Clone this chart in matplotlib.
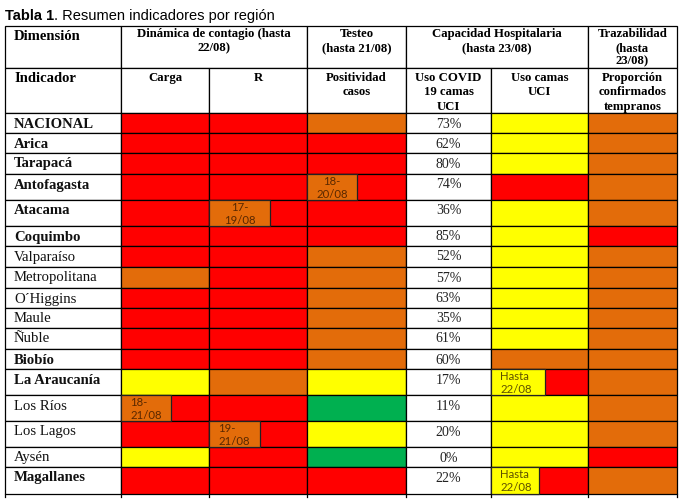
import matplotlib
matplotlib.use("Agg")
import matplotlib.pyplot as plt

# ---------------- data ----------------
regions = ['NACIONAL', 'Arica', 'Tarapacá', 'Antofagasta', 'Atacama', 'Coquimbo',
           'Valparaíso', 'Metropolitana', 'O´Higgins', 'Maule', 'Ñuble', 'Biobío',
           'La Araucanía', 'Los Ríos', 'Los Lagos', 'Aysén', 'Magallanes']
region_bold = [1, 1, 1, 1, 1, 1, 0, 0, 0, 0, 0, 1, 1, 0, 0, 0, 1]

carga       = ['R', 'R', 'R', 'R', 'R', 'R', 'R', 'O', 'R', 'R', 'R', 'R', 'Y', 'R', 'R', 'Y', 'R']
r_valor     = ['R', 'R', 'R', 'R', 'R', 'R', 'R', 'R', 'R', 'R', 'R', 'R', 'O', 'R', 'R', 'R', 'R']
positividad = ['O', 'R', 'R', 'R', 'R', 'R', 'O', 'O', 'O', 'O', 'O', 'O', 'Y', 'G', 'Y', 'G', 'R']
uso_covid   = [73, 62, 80, 74, 36, 85, 52, 57, 63, 35, 61, 60, 17, 11, 20, 0, 22]
uso_camas   = ['Y', 'Y', 'Y', 'R', 'Y', 'Y', 'Y', 'Y', 'Y', 'Y', 'Y', 'O', 'R', 'Y', 'Y', 'Y', 'R']
trazab      = ['O', 'O', 'O', 'O', 'O', 'R', 'O', 'O', 'O', 'O', 'O', 'O', 'O', 'O', 'O', 'R', 'O']

# partial-cell notes: (region, column, colour, text)
notes = [('Antofagasta', 'positividad', 'O', '18-\n20/08'),
         ('Atacama', 'r', 'O', '17-\n19/08'),
         ('La Araucanía', 'camas', 'Y', 'Hasta\n22/08'),
         ('Los Ríos', 'carga', 'O', '18-\n21/08'),
         ('Los Lagos', 'r', 'O', '19-\n21/08'),
         ('Magallanes', 'camas', 'Y', 'Hasta\n22/08')]

title_bold = 'Tabla 1'
title_rest = '. Resumen indicadores por región'
dim_headers = ['Dimensión', 'Dinámica de contagio (hasta\n22/08)', 'Testeo\n(hasta 21/08)',
               'Capacidad Hospitalaria\n(hasta 23/08)', 'Trazabilidad\n(hasta\n23/08)']
ind_headers = ['Indicador', 'Carga', 'R', 'Positividad\ncasos', 'Uso COVID\n19 camas\nUCI',
               'Uso camas\nUCI', 'Proporción\nconfirmados\ntempranos']

# ---------------- layout / style ----------------
palette = {'R': '#FF0000', 'O': '#E36C0A', 'Y': '#FFFF00', 'G': '#00B050', 'W': '#FFFFFF'}
col_edges = [5, 121, 209, 307, 406, 491, 588, 677]
head_edges = [26, 68, 113]
row_edges = [113, 133, 153, 174, 200, 226, 246, 267, 288, 308, 328, 349, 369, 395, 421,
             447, 467, 494]
dim_spans = [(0, 1), (1, 3), (3, 4), (4, 6), (6, 7)]
col_keys = {'carga': 1, 'r': 2, 'positividad': 3, 'camas': 5}
note_width = {('Antofagasta', 'positividad'): 50, ('Atacama', 'r'): 61,
              ('La Araucanía', 'camas'): 54, ('Los Ríos', 'carga'): 50,
              ('Los Lagos', 'r'): 51, ('Magallanes', 'camas'): 48}
note_center = {'Antofagasta', 'Atacama'}
SERIF = ['Liberation Serif', 'DejaVu Serif']
NOTEFONT = ['Lato', 'DejaVu Sans']
LW = 0.9

fig = plt.figure(figsize=(6.86, 5.03), dpi=100)
ax = fig.add_axes([0, 0, 1, 1])
ax.set_xlim(0, 686)
ax.set_ylim(503, 0)
ax.axis('off')


def lines(x, y0, text, spacing, **kw):
    for i, ln in enumerate(text.split('\n')):
        ax.text(x, y0 + i * spacing, ln, va='baseline', **kw)


# title
t = ax.text(5, 20, title_bold, fontsize=10.5, fontweight='bold',
            family=['Liberation Sans'], va='baseline')
fig.canvas.draw()
bb = t.get_window_extent()
x_after = ax.transData.inverted().transform((bb.x1, 0))[0]
ax.text(x_after, 20, title_rest, fontsize=10.5, family=['Liberation Sans'], va='baseline')

# header row 1
for (a, b), txt in zip(dim_spans, dim_headers):
    ax.bar(col_edges[a], head_edges[1] - head_edges[0], width=col_edges[b] - col_edges[a],
           bottom=head_edges[0], align='edge', color='white', edgecolor='black', linewidth=LW)
    if a == 0:
        lines(col_edges[0] + 9, head_edges[0] + 14, txt, 13.5, fontsize=10.5,
              fontweight='bold', family=SERIF, ha='left')
    else:
        lines((col_edges[a] + col_edges[b]) / 2, head_edges[0] + 11, txt, 13.8,
              fontsize=9.2, fontweight='bold', family=SERIF, ha='center')

# header row 2
for j, txt in enumerate(ind_headers):
    ax.bar(col_edges[j], head_edges[2] - head_edges[1], width=col_edges[j + 1] - col_edges[j],
           bottom=head_edges[1], align='edge', color='white', edgecolor='black', linewidth=LW)
    if j == 0:
        lines(col_edges[0] + 9, head_edges[1] + 14, txt, 14, fontsize=10.5,
              fontweight='bold', family=SERIF, ha='left')
    else:
        lines((col_edges[j] + col_edges[j + 1]) / 2, head_edges[1] + 13, txt, 14.3,
              fontsize=9.2, fontweight='bold', family=SERIF, ha='center')

# data cells
columns = [['W'] * len(regions), carga, r_valor, positividad, ['W'] * len(regions),
           uso_camas, trazab]
tops = row_edges[:-1]
heights = [row_edges[i + 1] - row_edges[i] for i in range(len(regions))]
for j, col in enumerate(columns):
    ax.bar([col_edges[j]] * len(regions), heights, width=col_edges[j + 1] - col_edges[j],
           bottom=tops, align='edge', color=[palette[c] for c in col],
           edgecolor='black', linewidth=LW)

for i, name in enumerate(regions):
    ax.text(col_edges[0] + 9, tops[i] + 14.5, name, fontsize=10.6,
            fontweight='bold' if region_bold[i] else 'normal', family=SERIF, va='baseline',
            color='#111111')
    ax.text((col_edges[4] + col_edges[5]) / 2, tops[i] + 14.5, f'{uso_covid[i]}%',
            fontsize=10, family=SERIF, ha='center', va='baseline', color='#222222')

# partial-cell boxes
for reg, key, colr, txt in notes:
    i = regions.index(reg)
    j = col_keys[key]
    w = note_width[(reg, key)]
    ax.bar(col_edges[j], heights[i], width=w, bottom=tops[i], align='edge',
           color=palette[colr], edgecolor='#222222', linewidth=LW)
    tcol = '#5E5000' if colr == 'Y' else '#5A2800'
    if reg in note_center:
        lines(col_edges[j] + w / 2, tops[i] + 11, txt, 12.7, fontsize=8.2,
              family=NOTEFONT, ha='center', color=tcol)
    else:
        lines(col_edges[j] + 9, tops[i] + 11, txt, 12.7, fontsize=8.2,
              family=NOTEFONT, ha='left', color=tcol)

# vertical stubs below last row
for x in col_edges:
    ax.plot([x, x], [row_edges[-1], row_edges[-1] + 3], color='black', linewidth=LW)

fig.savefig('out.png', dpi=100)
